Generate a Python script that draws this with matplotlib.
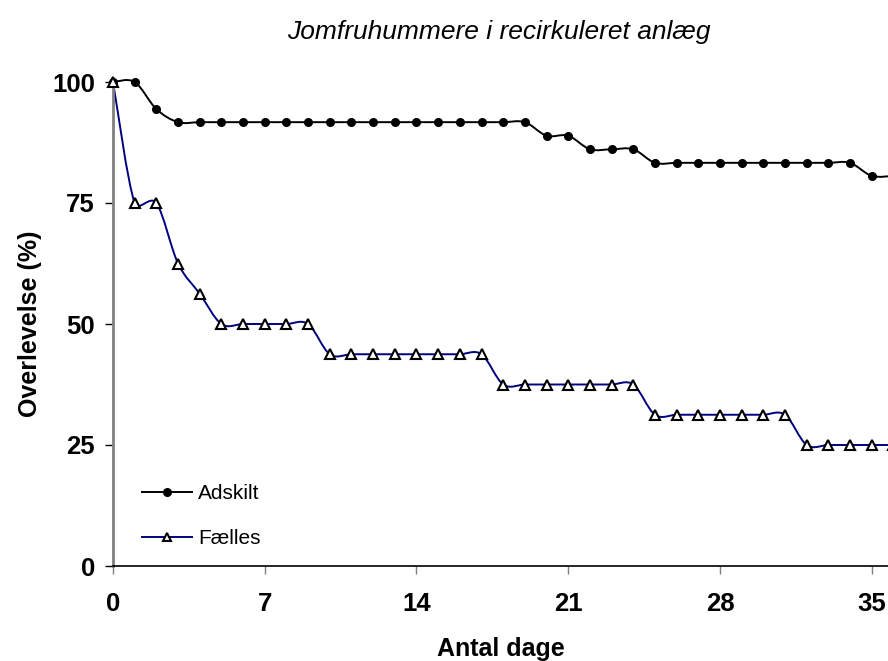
import numpy as np
import matplotlib.pyplot as plt
from matplotlib.path import Path
from matplotlib.patches import PathPatch
from matplotlib.lines import Line2D

plt.rcParams['font.family'] = ['Liberation Sans', 'DejaVu Sans']

days = np.arange(0, 37)
adskilt = [100, 100, 94.4, 91.7, 91.7, 91.7, 91.7, 91.7, 91.7, 91.7,
           91.7, 91.7, 91.7, 91.7, 91.7, 91.7, 91.7, 91.7, 91.7, 91.7,
           88.9, 88.9, 86.1, 86.1, 86.1, 83.3, 83.3, 83.3, 83.3, 83.3,
           83.3, 83.3, 83.3, 83.3, 83.3, 80.6, 80.6]
faelles = [100, 75, 75, 62.5, 56.25, 50, 50, 50, 50, 50,
           43.75, 43.75, 43.75, 43.75, 43.75, 43.75, 43.75, 43.75, 37.5, 37.5,
           37.5, 37.5, 37.5, 37.5, 37.5, 31.25, 31.25, 31.25, 31.25, 31.25,
           31.25, 31.25, 25, 25, 25, 25, 25]
xticks = [0, 7, 14, 21, 28, 35]
yticks = [0, 25, 50, 75, 100]

fig = plt.figure(figsize=(8.88, 6.61), dpi=100)
ax = fig.add_axes([113 / 888, 1 - 566 / 661, 1 - 113 / 888, (566 - 82) / 661])
ax.set_xlim(0, 35.75)
ax.set_ylim(0, 100)


def smooth_path(x, y):
    # excel-like smoothed line, bezier control points worked out in pixels
    pts = ax.transData.transform(np.column_stack([x, y]).astype(float))
    n = len(pts)
    verts = [pts[0]]
    codes = [Path.MOVETO]
    for i in range(n - 1):
        p0 = pts[max(i - 1, 0)]
        p1 = pts[i]
        p2 = pts[i + 1]
        p3 = pts[min(i + 2, n - 1)]
        d02 = np.hypot(*(p2 - p0))
        d12 = np.hypot(*(p2 - p1))
        d13 = np.hypot(*(p3 - p1))
        f = 1 / 6
        g = 1 / 6
        if d02 / 6 >= d12 / 2 and d02 > 0:
            f = d12 / d02 / 2
        if d13 / 6 >= d12 / 2 and d13 > 0:
            g = d12 / d13 / 2
        c1 = p1 + (p2 - p0) * f
        c2 = p2 - (p3 - p1) * g
        verts += [c1, c2, p2]
        codes += [Path.CURVE4] * 3
    verts = ax.transData.inverted().transform(np.array(verts))
    return Path(verts, codes)


ax.add_patch(PathPatch(smooth_path(days, adskilt), facecolor='none',
                       edgecolor='black', lw=1.4, clip_on=False))
ax.add_patch(PathPatch(smooth_path(days, faelles), facecolor='none',
                       edgecolor='#000080', lw=1.4, clip_on=False))
ax.plot(days, adskilt, linestyle='none', marker='o', ms=5.5,
        color='black', clip_on=False, zorder=3)
ax.plot(days, faelles, linestyle='none', marker='^', ms=6.5,
        markerfacecolor='white', markeredgecolor='black', mew=1.5,
        clip_on=False, zorder=3)

ax.set_xticks(xticks)
ax.set_yticks(yticks)
ax.tick_params(axis='both', direction='out', length=6, width=1,
               labelsize=18.5)
ax.tick_params(axis='x', pad=13, color='#808080')
ax.tick_params(axis='y', pad=7)
for lab in ax.get_xticklabels() + ax.get_yticklabels():
    lab.set_fontweight('bold')
ax.spines['top'].set_visible(False)
ax.spines['right'].set_visible(False)
ax.spines['left'].set_color('#808080')
ax.spines['left'].set_linewidth(2)
ax.spines['bottom'].set_linewidth(1.2)

ax.set_xlabel('Antal dage', fontsize=18, fontweight='bold', va='center')
ax.xaxis.set_label_coords(0.5, (566 - 649) / 484)
ax.set_ylabel('Overlevelse (%)', fontsize=18, fontweight='bold', va='center')
ax.yaxis.set_label_coords((30 - 113) / 775, (566 - 324) / 484)

fig.text(499 / 888, 1 - 32 / 661, 'Jomfruhummere i recirkuleret anlæg',
         ha='center', va='center', fontsize=19, style='italic')

handles = [Line2D([], [], color='black', lw=1.4, marker='o', ms=5.5),
           Line2D([], [], color='#000080', lw=1.4, marker='^', ms=6,
                  markerfacecolor='white', markeredgecolor='black', mew=1.5)]
ax.legend(handles, ['Adskilt', 'Fælles'], loc='upper left',
          bbox_to_anchor=(142 / 888, 1 - 484 / 661),
          bbox_transform=fig.transFigure, frameon=False, fontsize=15,
          borderpad=0, borderaxespad=0,
          handlelength=2.4, handletextpad=0.3, labelspacing=1.24)

fig.savefig('out.png', dpi=100)
